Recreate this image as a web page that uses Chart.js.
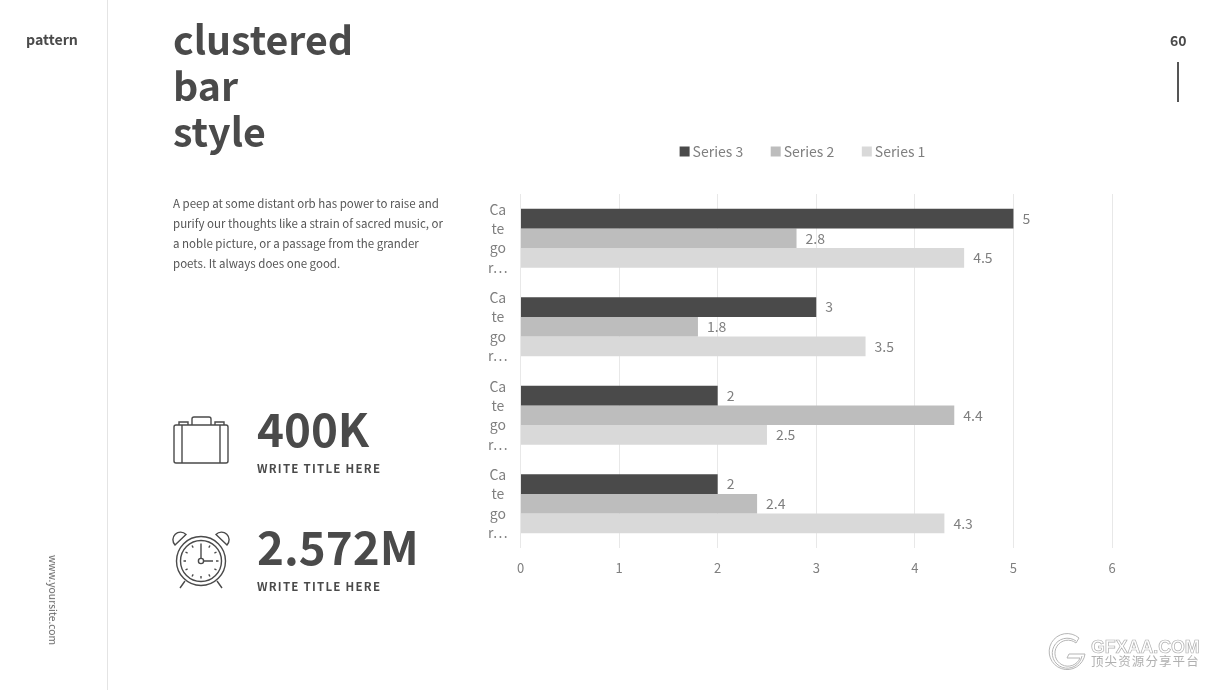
<!DOCTYPE html>
<html><head><meta charset="utf-8">
<script src="https://cdn.jsdelivr.net/npm/chart.js@4"></script>
<style>
html,body{margin:0;padding:0;background:#fff;width:1226px;height:690px;overflow:hidden}
body{font-family:"Noto Sans CJK SC","Noto Sans",sans-serif;color:#4a4a4a;position:relative}
.a{position:absolute;white-space:nowrap;will-change:transform}
#wrap{position:absolute;left:480.4px;top:113px;width:649px;height:475px}
</style></head><body>
<div class="a" style="left:107px;top:0;width:1px;height:690px;background:#e4e4e4"></div>
<div class="a" style="left:26px;top:29px;font-size:14.2px;line-height:20px;font-weight:700">pattern</div>
<div class="a" style="left:1170px;top:30px;font-size:14px;line-height:20px;font-weight:700">60</div>
<div class="a" style="left:1177px;top:62px;width:2px;height:40px;background:#555"></div>
<div class="a" style="left:173px;top:15px;font-size:39.3px;line-height:46px;font-weight:700">clustered<br>bar<br>style</div>
<div class="a" style="left:173px;top:192.5px;font-size:11.5px;line-height:20px;color:#555">A peep at some distant orb has power to raise and<br>purify our thoughts like a strain of sacred music, or<br>a noble picture, or a passage from the grander<br>poets. It always does one good.</div>
<div class="a" style="left:257px;top:397px;font-size:45.7px;line-height:60px;font-weight:700">400K</div>
<div class="a" style="left:257px;top:458.5px;font-size:11.5px;line-height:18px;font-weight:700;letter-spacing:1.25px">WRITE TITLE HERE</div>
<div class="a" style="left:257px;top:515px;font-size:45.7px;line-height:60px;font-weight:700">2.572M</div>
<div class="a" style="left:257px;top:576.5px;font-size:11.5px;line-height:18px;font-weight:700;letter-spacing:1.25px">WRITE TITLE HERE</div>
<div class="a" style="left:53px;top:600px;font-size:10.4px;line-height:14px;color:#666;transform:translate(-50%,-50%) rotate(90deg)">www.yoursite.com</div>

<svg class="a" style="left:170px;top:414px" width="62" height="54" viewBox="0 0 62 54" fill="none" stroke="#4a4a4a" stroke-width="1.4">
<rect x="4" y="11" width="54" height="38" rx="2"/>
<path d="M12 11V49M50 11V49M22 11V5a2 2 0 0 1 2-2H39a2 2 0 0 1 2 2V11M9 11V8H18V11M45 11V8H54V11"/>
</svg>
<svg class="a" style="left:170px;top:530px" width="62" height="62" viewBox="0 0 62 62" fill="none" stroke="#4a4a4a" stroke-width="1.4">
<circle cx="31" cy="31" r="24.5"/><circle cx="31" cy="31" r="20.5"/><circle cx="31" cy="31" r="2.6"/>
<path d="M31 28V15M34 31H43M31 13.5v2.5M31 46v2.5M13.5 31h2.5M46 31h2.5M22 15.5l1.2 2.1M40 15.5l-1.2 2.1M15.500 22l2.100 1.200M46.500 22l-2.100 1.200M15.500 40l2.100-1.200M46.500 40l-2.100-1.200M22 46.500l1.200-2.100M40 46.500l-1.200-2.100"/>
<path d="M5 15a7 7 0 0 1 11-10.500l-11 10.500zM57 15a7 7 0 0 0-11-10.500l11 10.500zM15 51l-5 7M47 51l5 7"/>
</svg>

<div id="wrap"><canvas id="c"></canvas></div>

<svg class="a" style="left:1048px;top:632px" width="40" height="40" viewBox="0 0 40 40" fill="none" stroke="#b5b5b5" stroke-width="1">
<path d="M31 6A18 18 0 1 0 37 22H21l-2 4h13A13 13 0 1 1 28 11z"/>
<path d="M28 9A15 15 0 1 0 34 24"/>
</svg>
<div class="a" style="left:1091px;top:636px;font-size:17.8px;line-height:22px;font-weight:700;color:#fff;-webkit-text-stroke:.7px #b0b0b0;font-family:'Liberation Sans',sans-serif">GFXAA.COM</div>
<div class="a" style="left:1091px;top:653px;font-size:12.5px;line-height:16px;color:#b0b0b0;letter-spacing:1.1px">顶尖资源分享平台</div>

<script>
const categories = [["Ca","te","go","r…"],["Ca","te","go","r…"],["Ca","te","go","r…"],["Ca","te","go","r…"]];
const series3 = [5, 3, 2, 2];
const series2 = [2.8, 1.8, 4.4, 2.4];
const series1 = [4.5, 3.5, 2.5, 4.3];
const seriesNames = ["Series 3", "Series 2", "Series 1"];
const seriesColors = ["#4a4a4a", "#bdbdbd", "#d9d9d9"];
const textGrey = "#7f7f7f";
const fontFamily = '"Noto Sans CJK SC","Noto Sans",sans-serif';

const valueLabels = {
  id: "valueLabels",
  afterDatasetsDraw(chart) {
    const ctx = chart.ctx;
    ctx.save();
    ctx.font = "14px " + fontFamily;
    ctx.fillStyle = textGrey;
    ctx.textAlign = "left";
    ctx.textBaseline = "middle";
    chart.data.datasets.forEach((ds, i) => {
      chart.getDatasetMeta(i).data.forEach((el, j) => {
        ctx.fillText(String(ds.data[j]), el.x + 9, el.y);
      });
    });
    ctx.restore();
  }
};
const legendGap = {
  id: "legendGap",
  beforeLayout(chart) {
    const lg = chart.legend;
    if (lg && !lg._wrapped) {
      const fit = lg.fit.bind(lg);
      lg.fit = function () { fit(); this.height += 25.5; };
      lg._wrapped = true;
    }
  }
};

new Chart(document.getElementById("c"), {
  type: "bar",
  data: {
    labels: categories,
    datasets: [series3, series2, series1].map((d, i) => ({
      label: seriesNames[i], data: d, backgroundColor: seriesColors[i],
      borderWidth: 0, categoryPercentage: 0.667, barPercentage: 1
    }))
  },
  options: {
    indexAxis: "y",
    responsive: true,
    maintainAspectRatio: false,
    animation: false,
    plugins: {
      tooltip: { enabled: false },
      legend: {
        position: "top", align: "center",
        labels: {
          boxWidth: 2, boxHeight: 2, padding: 31.5, color: textGrey,
          font: { family: fontFamily, size: 14 },
          generateLabels(chart) {
            return chart.data.datasets.map((ds, i) => ({
              text: ds.label, datasetIndex: i, fontColor: textGrey,
              fillStyle: ds.backgroundColor, strokeStyle: ds.backgroundColor, lineWidth: 8
            }));
          }
        }
      }
    },
    scales: {
      x: {
        min: 0, max: 6,
        ticks: { stepSize: 1, color: textGrey, padding: 12, maxRotation: 0,
          font: { family: fontFamily, size: 13 } },
        grid: { color: "#e8e8e8", drawTicks: false },
        border: { display: false },
        afterFit(s) { s.height = 40; s.paddingRight = 17; }
      },
      y: {
        ticks: { color: textGrey, padding: 13, autoSkip: false, crossAlign: "center",
          font: { family: fontFamily, size: 14, lineHeight: 1.38 } },
        grid: { display: false, drawTicks: false },
        border: { display: false },
        afterFit(s) { s.width = 40.5; s.paddingTop = 0; s.paddingBottom = 0; }
      }
    }
  },
  plugins: [valueLabels, legendGap]
});
</script>
</body></html>
